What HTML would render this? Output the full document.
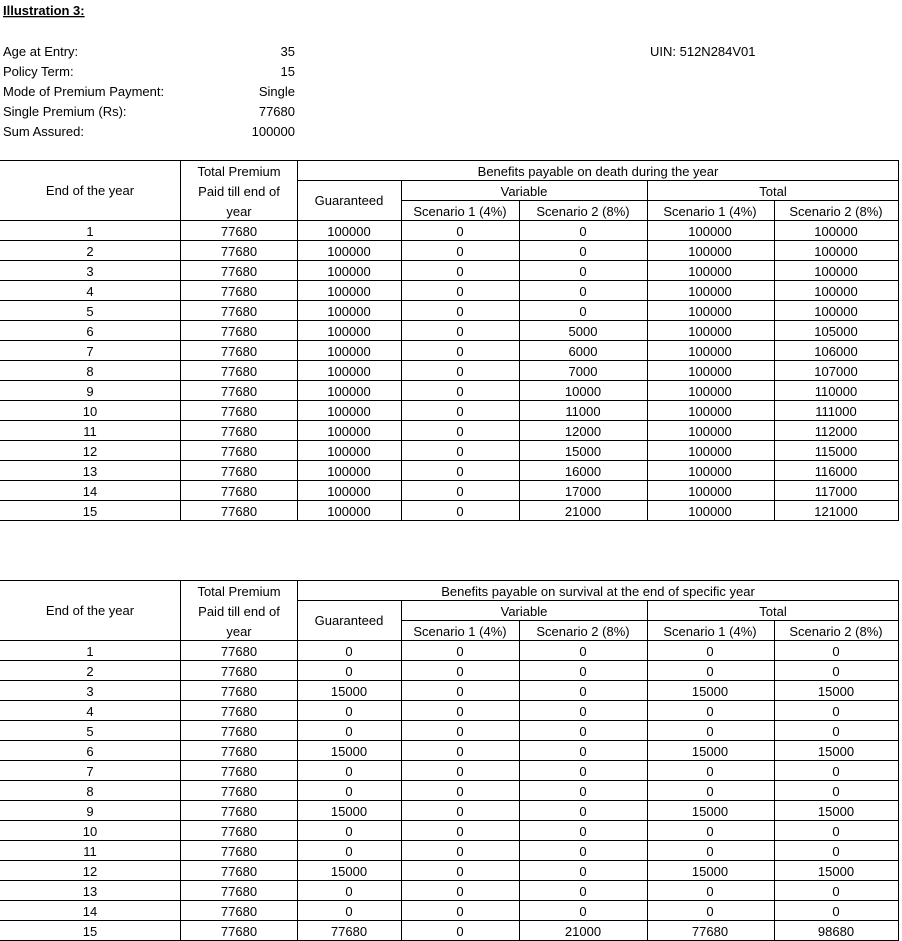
<!DOCTYPE html>
<html><head><style>
body{margin:0;background:#fff;width:902px;height:941px;overflow:hidden}
svg{display:block}
text{font-family:"Liberation Sans",sans-serif;font-size:13px;fill:#000}
</style></head><body>
<svg width="902" height="941" xmlns="http://www.w3.org/2000/svg">
<text x="3" y="15" font-weight="bold" text-decoration="underline">Illustration 3:</text>
<text x="3" y="56">Age at Entry:</text><text x="295" y="56" text-anchor="end">35</text>
<text x="3" y="76">Policy Term:</text><text x="295" y="76" text-anchor="end">15</text>
<text x="3" y="96">Mode of Premium Payment:</text><text x="295" y="96" text-anchor="end">Single</text>
<text x="3" y="116">Single Premium (Rs):</text><text x="295" y="116" text-anchor="end">77680</text>
<text x="3" y="136">Sum Assured:</text><text x="295" y="136" text-anchor="end">100000</text>
<text x="650" y="56">UIN: 512N284V01</text>
<g id="t1"></g><g id="t2"></g>
</svg>
<script>
const ns="http://www.w3.org/2000/svg";
function el(p,n,a,t){const e=document.createElementNS(ns,n);for(const k in a)e.setAttribute(k,a[k]);if(t!==undefined)e.textContent=t;p.appendChild(e);}
function table(g,top,title,rows){
 const L=(x1,y1,x2,y2)=>el(g,'line',{x1,y1,x2,y2,stroke:'#000','stroke-width':1,'shape-rendering':'crispEdges'});
 const T=(x,y,s)=>el(g,'text',{x,y,'text-anchor':'middle'},s);
 const b=top+360;
 L(0,top+0.5,898,top+0.5);
 L(297,top+20.5,898,top+20.5);
 L(401,top+40.5,898,top+40.5);
 for(let i=0;i<16;i++)L(0,top+60.5+i*20,898,top+60.5+i*20);
 [180.5,297.5,898.5].forEach(x=>L(x,top,x,b+1));
 [401.5].forEach(x=>L(x,top+20,x,b+1));
 L(647.5,top+20,647.5,b+1);
 [519.5,774.5].forEach(x=>L(x,top+40,x,b+1));
 T(90,top+35,'End of the year');
 T(239,top+16,'Total Premium');T(239,top+36,'Paid till end of');T(239,top+56,'year');
 T(349,top+45,'Guaranteed');
 T(598,top+16,title);
 T(524,top+36,'Variable');T(773,top+36,'Total');
 T(460,top+56,'Scenario 1 (4%)');T(583,top+56,'Scenario 2 (8%)');
 T(710,top+56,'Scenario 1 (4%)');T(836,top+56,'Scenario 2 (8%)');
 const cx=[90,239,349,460,583,710,836];
 rows.forEach((r,i)=>{const y=top+76+i*20;[i+1,77680,...r].forEach((v,j)=>T(cx[j],y,String(v)));});
}
const v2=[0,0,0,0,0,5000,6000,7000,10000,11000,12000,15000,16000,17000,21000];
table(document.getElementById('t1'),160,'Benefits payable on death during the year',
 v2.map(v=>[100000,0,v,100000,100000+v]));
const g=[0,0,15000,0,0,15000,0,0,15000,0,0,15000,0,0,77680];
table(document.getElementById('t2'),580,'Benefits payable on survival  at the end of specific year',
 g.map((v,i)=>i==14?[77680,0,21000,77680,98680]:[v,0,0,v,v]));
</script>
</body></html>
